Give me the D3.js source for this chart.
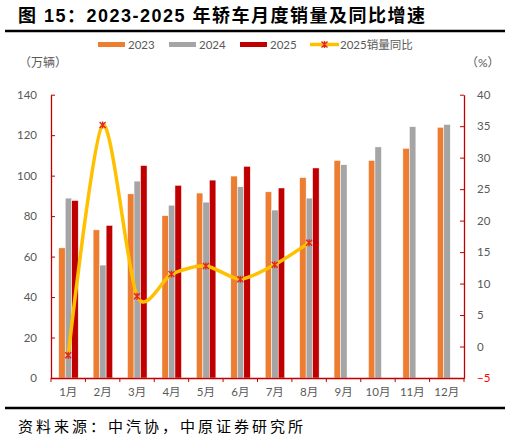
<!doctype html>
<html lang="zh">
<head>
<meta charset="utf-8">
<title>2023-2025 年轿车月度销量及同比增速</title>
<script src="https://d3js.org/d3.v7.min.js"></script>
<style>
  body { margin: 0; background: #fff; }
  text { font-family: Lato, "Noto Sans CJK SC", sans-serif; }
</style>
</head>
<body>
<script>

// data
var months = ["1月","2月","3月","4月","5月","6月","7月","8月","9月","10月","11月","12月"];
var series = ["2023","2024","2025"];
var sales2023 = [64.3, 73.2, 91.0, 80.2, 91.4, 99.8, 92.0, 99.0, 107.5, 107.5, 113.5, 123.9];
var sales2024 = [88.9, 55.8, 97.3, 85.4, 86.9, 94.5, 83.0, 88.9, 105.4, 114.2, 124.2, 125.3];
var sales2025 = [87.7, 75.4, 105.0, 95.2, 97.8, 104.6, 93.9, 103.8];
var yoy2025 = [-1.4, 35.2, 8.0, 11.5, 12.8, 10.7, 13.0, 16.5];
var leftTicks = [0, 20, 40, 60, 80, 100, 120, 140];
var rightTicks = [-5, 0, 5, 10, 15, 20, 25, 30, 35, 40];

var colors = { "2023": "#ED7D31", "2024": "#A5A5A5", "2025": "#C00000" };
var lineColor = "#FFC000";
var markColor = "#E0261F";
var axisColor = "#C00000";
var labelColor = "#595959";

var width = 511, height = 440;
var plot = { left: 51, right: 464, top: 94.7, bottom: 378 };

var svg = d3.select("body").append("svg")
    .attr("width", width)
    .attr("height", height);

// title and rules
svg.append("text")
   .attr("x", 18).attr("y", 22)
   .attr("textLength", 407).attr("lengthAdjust", "spacing")
   .style("font-family", "'Liberation Sans', 'Noto Sans CJK SC', sans-serif")
   .style("font-weight", "bold").style("font-size", "18px")
   .attr("fill", "#000")
   .text("图 15：2023-2025 年轿车月度销量及同比增速");

svg.append("line").attr("x1", 5).attr("x2", 505).attr("y1", 31).attr("y2", 31)
   .attr("stroke", "#000").attr("stroke-width", 2.5);
svg.append("line").attr("x1", 5).attr("x2", 505).attr("y1", 408).attr("y2", 408)
   .attr("stroke", "#000").attr("stroke-width", 2.5);

svg.append("text")
   .attr("x", 18).attr("y", 432)
   .attr("textLength", 285).attr("lengthAdjust", "spacing")
   .style("font-size", "15px").attr("fill", "#000")
   .text("资料来源：中汽协，中原证券研究所");

// scales
var x = d3.scaleBand().domain(months).range([plot.left, plot.right]).padding(0);
var xs = d3.scaleBand().domain(series).range([-9.5, 10]).padding(0);
var y = d3.scaleLinear().domain([0, 140]).range([plot.bottom, plot.top]);
var y2 = d3.scaleLinear().domain([-5, 40]).range([plot.bottom, plot.top]);

var values = { "2023": sales2023, "2024": sales2024, "2025": sales2025 };

// bars
series.forEach(function(s){
    svg.append("g").selectAll("rect")
       .data(values[s])
       .enter().append("rect")
       .attr("x", function(d, i){ return x(months[i]) + x.bandwidth() / 2 + xs(s); })
       .attr("width", xs.bandwidth())
       .attr("y", function(d){ return y(d); })
       .attr("height", function(d){ return y(0) - y(d); })
       .attr("fill", colors[s])
       .attr("stroke", "#fff").attr("stroke-width", 0.5);
});

// axes
var xAxis = svg.append("g").attr("transform", "translate(0," + plot.bottom + ")")
    .call(d3.axisBottom(x).tickSize(0).tickPadding(10));
xAxis.select(".domain").attr("stroke", axisColor).attr("stroke-width", 1.3);
xAxis.selectAll("text").attr("fill", labelColor).style("font-size", "11.5px");
xAxis.selectAll(".sep")
    .data(d3.range(months.length + 1))
    .enter().append("line")
    .attr("x1", function(i){ return plot.left + i * x.step(); })
    .attr("x2", function(i){ return plot.left + i * x.step(); })
    .attr("y1", 0).attr("y2", 4)
    .attr("stroke", axisColor).attr("stroke-width", 1);

var yAxis = svg.append("g").attr("transform", "translate(" + plot.left + ",0)")
    .call(d3.axisLeft(y).tickValues(leftTicks).tickSizeInner(-4).tickSizeOuter(0).tickPadding(14));
yAxis.select(".domain").attr("stroke", axisColor).attr("stroke-width", 1.3);
yAxis.selectAll("line").attr("stroke", axisColor);
yAxis.selectAll("text").attr("fill", labelColor).style("font-size", "11.5px");

var y2Axis = svg.append("g").attr("transform", "translate(" + plot.right + ",0)")
    .call(d3.axisRight(y2).tickValues(rightTicks).tickSizeInner(-4).tickSizeOuter(0).tickPadding(13));
y2Axis.select(".domain").attr("stroke", axisColor).attr("stroke-width", 1.3);
y2Axis.selectAll("line").attr("stroke", axisColor);
y2Axis.selectAll("text")
    .attr("fill", function(d){ return d < 0 ? "#FF0000" : labelColor; })
    .style("font-size", "11.5px");

// unit labels
svg.append("text").attr("x", 19).attr("y", 67)
   .style("font-size", "12px").attr("fill", labelColor).text("（万辆）");
svg.append("text").attr("x", 466).attr("y", 67)
   .style("font-size", "12px").attr("fill", labelColor).text("（%）");

// yoy line
var line = d3.line()
    .x(function(d, i){ return x(months[i]) + x.bandwidth() / 2; })
    .y(function(d){ return y2(d); })
    .curve(d3.curveCardinal.tension(0.2));

svg.append("path")
   .datum(yoy2025)
   .attr("d", line)
   .attr("fill", "none")
   .attr("stroke", lineColor)
   .attr("stroke-width", 3.5)
   .attr("stroke-linecap", "round");

var star = "M-3,-3L3,3M-3,3L3,-3M0,-3.5L0,3.5";

svg.append("g").selectAll("path")
   .data(yoy2025)
   .enter().append("path")
   .attr("transform", function(d, i){ return "translate(" + (x(months[i]) + x.bandwidth() / 2) + "," + y2(d) + ")"; })
   .attr("d", star)
   .attr("fill", "none")
   .attr("stroke", markColor)
   .attr("stroke-width", 1.4);

// legend
var legend = svg.append("g");
var legendItems = [
    { label: "2023", x: 98, type: "bar", color: colors["2023"] },
    { label: "2024", x: 169, type: "bar", color: colors["2024"] },
    { label: "2025", x: 240, type: "bar", color: colors["2025"] },
    { label: "2025销量同比", x: 310, type: "line", color: lineColor }
];

legendItems.forEach(function(d){
    if (d.type == "bar") {
        legend.append("rect").attr("x", d.x).attr("y", 42).attr("width", 27).attr("height", 5)
              .attr("fill", d.color);
    } else {
        legend.append("line").attr("x1", d.x).attr("x2", d.x + 29).attr("y1", 44.5).attr("y2", 44.5)
              .attr("stroke", d.color).attr("stroke-width", 3.5);
        legend.append("path").attr("transform", "translate(" + (d.x + 14.5) + ",44.5)")
              .attr("d", star).attr("fill", "none").attr("stroke", markColor).attr("stroke-width", 1.4);
    }
    legend.append("text").attr("x", d.x + 30).attr("y", 48.5)
          .style("font-size", "11.5px").attr("fill", labelColor).text(d.label);
});

</script>
</body>
</html>
